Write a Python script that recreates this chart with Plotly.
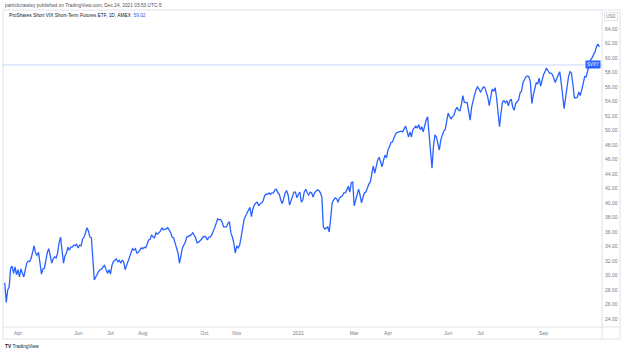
import plotly.graph_objects as go
import pandas as pd

# ---------------- data ----------------
header_text = "patrickcrawley published on TradingView.com, Dec 24, 2021 03:53 UTC-5"
title_text = "ProShares Short VIX Short-Term Futures ETF, 1D, AMEX"
symbol = "SVXY"
last_price = 59.02
currency = "USD"

# trading-day number (0 = 2020-03-19) and daily close
day = [
    0, 1, 2, 3, 4, 5, 6, 7, 8, 9, 10, 11, 12, 13, 14, 15, 16, 17, 18, 19,
    20, 21, 22, 23, 24, 25, 26, 27, 28, 29, 30, 31, 32, 33, 34, 35, 36, 37, 38, 39,
    40, 41, 42, 43, 44, 45, 46, 47, 48, 49, 50, 51, 52, 53, 54, 55, 56, 57, 58, 59,
    60, 61, 62, 63, 64, 65, 66, 67, 68, 69, 70, 71, 72, 73, 74, 75, 76, 77, 78, 79,
    80, 81, 82, 83, 84, 85, 86, 87, 88, 89, 90, 91, 92, 93, 94, 95, 96, 97, 98, 99,
    100, 101, 102, 103, 104, 105, 106, 107, 108, 109, 110, 111, 113, 114, 115, 116, 117, 118, 119,
    120, 121, 122, 123, 124, 125, 127, 128, 129, 130, 131, 132, 134, 135, 136, 137, 138, 139,
    140, 141, 143, 144, 145, 146, 147, 148, 149, 151, 152, 153, 154, 155, 156, 157, 158, 159,
    160, 161, 162, 163, 164, 166, 167, 168, 169, 170, 171, 172, 173, 174, 175, 176, 177, 178, 179,
    180, 181, 182, 183, 184, 185, 186, 187, 188, 189, 190, 191, 192, 193, 194, 195, 196, 197, 198, 199,
    200, 201, 202, 203, 204, 205, 206, 207, 208, 209, 210, 211, 213, 214, 215, 216, 217, 218,
    220, 221, 222, 223, 224, 225, 226, 227, 228, 230, 231, 232, 233, 234, 235, 236, 237, 238, 239,
    240, 241, 242, 243, 244, 245, 246, 247, 248, 249, 250, 251, 252, 253, 254, 255, 256, 257, 258, 259,
    260, 261, 262, 263, 264, 265, 266, 267, 269, 270, 271, 272, 273, 274, 275, 276, 277, 278, 279,
    280, 281, 282, 283, 284, 285, 286, 287, 288, 289, 290, 291, 292, 293, 294, 295, 296, 297, 298, 299,
    300, 301, 302, 303, 304, 305, 306, 307, 308, 309, 310, 311, 312, 313, 314, 315, 316, 317, 318, 319,
    320, 321, 322, 323, 324, 325, 326, 327, 328, 329, 330, 331, 332, 333, 334, 335, 336, 337, 338, 339,
    340, 341, 342, 343, 344, 345, 346, 347, 348, 349, 350, 351, 352, 353, 355, 356, 357, 358, 359,
    360, 361, 362, 363, 364, 365, 366, 367, 368, 369, 371, 372, 373, 374, 375, 376, 378, 379,
    380, 381, 382, 383, 384, 385, 386, 387, 388, 389, 390, 391, 392, 393, 394, 395, 396, 397, 398, 399,
    400, 401, 402, 403, 404, 405,
]
price = [
    29.0, 26.3, 28.0, 28.4, 31.0, 31.3, 30.3, 31.2, 30.1, 30.8, 29.8, 30.9, 30.3, 29.8, 30.8, 31.7, 32.0, 31.9, 32.4, 33.2,
    34.1, 33.1, 32.8, 33.2, 31.2, 30.2, 30.9, 31.0, 32.1, 33.2, 33.7, 32.7, 31.7, 32.3, 32.6, 32.4, 33.1, 34.5, 35.3, 33.5,
    31.7, 32.7, 33.1, 33.9, 33.5, 33.9, 33.9, 34.2, 34.1, 34.3, 33.8, 34.2, 34.1, 35.0, 35.3, 35.9, 36.6, 36.1, 35.3, 35.2,
    32.4, 29.4, 29.8, 30.3, 30.6, 30.8, 30.9, 31.2, 31.4, 30.8, 30.3, 30.8, 30.2, 31.4, 31.9, 32.1, 32.3, 31.9, 32.1, 31.7,
    32.1, 31.9, 30.8, 31.4, 32.0, 32.6, 33.0, 33.7, 33.5, 33.7, 33.1, 33.2, 33.5, 33.8, 33.7, 33.9, 33.8, 34.5, 34.9, 35.0,
    35.6, 35.3, 35.2, 35.9, 35.7, 35.9, 36.1, 36.6, 36.3, 36.4, 36.4, 36.6, 35.9, 35.3, 35.2, 34.5, 33.9, 33.1, 31.7,
    32.8, 33.8, 34.2, 34.6, 35.3, 35.4, 35.6, 35.9, 35.6, 35.2, 34.5, 34.6, 35.0, 35.3, 35.4, 35.3, 34.9, 35.3,
    35.3, 35.6, 36.6, 37.4, 37.8, 37.7, 37.7, 37.4, 36.7, 36.7, 37.2, 37.4, 35.9, 35.3, 34.5, 33.1, 34.1, 33.8,
    34.2, 35.3, 36.7, 37.7, 38.2, 39.0, 39.4, 38.1, 39.2, 39.7, 40.0, 40.1, 39.6, 39.9, 40.0, 40.3, 41.0, 41.2, 41.2,
    41.4, 41.2, 41.4, 41.4, 41.8, 41.9, 41.4, 41.2, 40.4, 39.9, 40.6, 41.4, 41.7, 41.1, 39.7, 40.4, 41.1, 41.5, 41.5, 40.7,
    41.2, 41.5, 40.1, 40.4, 41.5, 41.9, 41.4, 41.1, 41.5, 41.4, 40.8, 41.4, 41.8, 41.7, 41.4, 40.8, 36.7, 36.4,
    36.7, 36.0, 37.9, 40.0, 40.4, 40.7, 40.6, 40.1, 40.7, 41.0, 41.4, 41.4, 41.8, 42.3, 41.5, 42.8, 42.9, 39.6, 40.4,
    41.4, 41.9, 41.1, 40.0, 40.8, 41.4, 41.5, 42.2, 42.6, 42.9, 44.1, 45.1, 44.1, 45.0, 45.9, 46.3, 45.5, 45.0, 45.9, 46.6,
    46.2, 47.3, 47.7, 48.3, 48.4, 49.0, 49.4, 49.7, 49.8, 49.9, 49.8, 50.3, 50.6, 49.9, 49.1, 49.8, 49.1, 50.1, 50.3,
    50.6, 50.3, 50.8, 50.1, 50.5, 49.8, 50.8, 51.4, 51.9, 49.5, 46.5, 44.8, 47.8, 49.4, 49.1, 48.3, 47.3, 48.7, 49.4, 49.9,
    50.1, 51.2, 52.4, 51.9, 51.6, 51.9, 52.1, 52.8, 53.2, 52.8, 52.7, 53.5, 54.8, 53.9, 53.9, 53.8, 52.6, 51.4, 53.2, 54.3,
    54.9, 55.6, 56.0, 55.7, 55.3, 55.6, 56.0, 55.9, 55.3, 54.6, 53.4, 54.9, 55.7, 55.4, 55.9, 54.5, 52.1, 50.5, 52.4, 53.9,
    54.1, 53.8, 54.1, 53.4, 54.1, 54.3, 53.2, 52.8, 53.7, 53.9, 54.2, 55.2, 55.4, 56.6, 57.4, 57.5, 57.4, 56.7, 53.7,
    54.9, 56.0, 56.6, 56.4, 57.2, 56.1, 57.0, 57.7, 58.1, 58.6, 57.9, 57.9, 57.7, 57.2, 56.6, 57.2, 58.1, 56.6,
    54.6, 53.0, 54.5, 56.0, 57.4, 58.1, 57.9, 56.3, 54.5, 54.5, 54.6, 55.3, 54.8, 55.6, 56.7, 57.4, 57.4, 58.3, 58.9, 59.7,
    60.0, 60.4, 60.8, 61.5, 61.9, 61.5,
]

# trading calendar (NYSE holidays) used for time-axis labels
start_date = "2020-03-19"
holidays = ["2020-04-10", "2020-05-25", "2020-07-03", "2020-09-07", "2020-11-26",
            "2020-12-25", "2021-01-01", "2021-01-18", "2021-02-15", "2021-04-02",
            "2021-05-31", "2021-07-05", "2021-09-06"]
tick_months = ["2020-04-01", "2020-06-01", "2020-07-01", "2020-08-01", "2020-10-01",
               "2020-11-01", "2021-01-01", "2021-03-01", "2021-04-01", "2021-06-01",
               "2021-07-01", "2021-09-01"]
tick_labels = ["Apr", "Jun", "Jul", "Aug", "Oct", "Nov", "2021", "Mar", "Apr", "Jun", "Jul", "Sep"]
price_ticks = [24, 26, 28, 30, 32, 34, 36, 38, 40, 42, 44, 46, 48, 50, 52, 54, 56, 58, 60, 62, 64]

cal = pd.bdate_range(start_date, "2021-12-31", freq="C", holidays=holidays)
tick_idx = [int(cal.searchsorted(pd.Timestamp(m))) for m in tick_months]

# ---------------- style / layout ----------------
W, H = 624, 353
L, R, T, B = 3, 22, 10, 26
PW, PH = W - L - R, H - T - B
LINE = "#2962FF"
GRID = "#e0e3eb"
TXT = "#787b86"
DARK = "#131722"
FONT = "Liberation Sans"


def px(x):
    return (x - L) / PW


def py(y):
    return (H - B - y) / PH


fig = go.Figure()
fig.add_trace(go.Scatter(x=day, y=price, mode="lines",
                         line=dict(color=LINE, width=1.3), hoverinfo="skip"))

fig.update_layout(
    width=W, height=H, margin=dict(l=L, r=R, t=T, b=B),
    paper_bgcolor="white", plot_bgcolor="white", showlegend=False,
    font=dict(family=FONT, size=5, color=TXT),
    xaxis=dict(range=[-1.2, 406.8], tickvals=tick_idx, ticktext=tick_labels,
               showgrid=False, zeroline=False, showline=False, ticks="",
               tickfont=dict(size=5, color=TXT), ticklabelstandoff=2, fixedrange=True),
    yaxis=dict(side="right", range=[22.9, 66.6], tickvals=price_ticks, tickformat=".2f",
               showgrid=False, zeroline=False, showline=False, ticks="",
               tickfont=dict(size=5, color=TXT), ticklabelstandoff=2, fixedrange=True),
)

shapes = [
    # outer frame
    dict(type="rect", xref="paper", yref="paper", x0=0, x1=px(620), y0=py(339), y1=1,
         line=dict(color=GRID, width=1)),
    # price scale separator
    dict(type="line", xref="paper", yref="paper", x0=1, x1=1, y0=py(339), y1=1,
         line=dict(color=GRID, width=1)),
    # time scale separator
    dict(type="line", xref="paper", yref="paper", x0=0, x1=px(620), y0=0, y1=0,
         line=dict(color=GRID, width=1)),
    # last price line
    dict(type="line", xref="paper", yref="y", x0=0, x1=1, y0=last_price, y1=last_price,
         line=dict(color="rgba(41,98,255,0.25)", width=1)),
]
fig.update_layout(shapes=shapes)

ann = [
    dict(text=header_text, xref="paper", yref="paper", x=px(3), y=py(5),
         xanchor="left", yanchor="middle", showarrow=False,
         font=dict(size=4.8, color="#50535e")),
    dict(text=f"{title_text}  <span style='color:{LINE}'>{last_price:.2f}</span>",
         xref="paper", yref="paper", x=px(7), y=py(16),
         xanchor="left", yanchor="middle", showarrow=False,
         font=dict(size=4.8, color=DARK)),
    dict(text=symbol, xref="paper", yref="y", x=1, y=last_price,
         xanchor="right", yanchor="middle", xshift=-1, showarrow=False,
         bgcolor=LINE, borderpad=1, font=dict(size=4.5, color="white")),
    dict(text=currency, xref="paper", yref="paper", x=px(611), y=py(17),
         xanchor="center", yanchor="middle", showarrow=False,
         bordercolor=GRID, borderwidth=1, borderpad=1, bgcolor="white",
         font=dict(size=4.5, color=TXT)),
    dict(text="<b>TV</b> TradingView", xref="paper", yref="paper", x=px(3), y=py(346),
         xanchor="left", yanchor="middle", showarrow=False,
         font=dict(size=4.8, color=DARK)),
]
fig.update_layout(annotations=ann)

fig.write_html("out.html")
